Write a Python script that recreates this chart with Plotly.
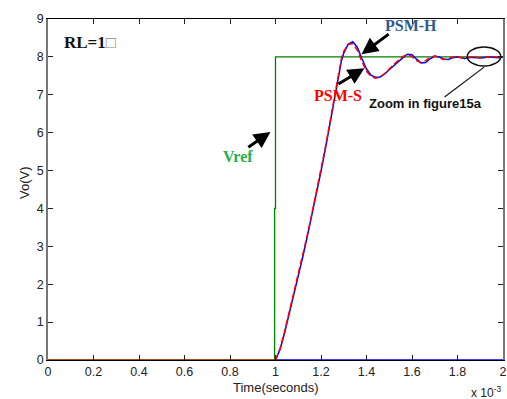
import plotly.graph_objects as go

# Reference step (Vref)
t_ref = [0.0, 0.996, 0.996, 1.0, 1.0, 2.0]
v_ref = [0.0, 0.0, 4.0, 4.0, 8.0, 8.0]

# PSM-H response (blue)
t_h = [1.00, 1.02, 1.04, 1.06, 1.08, 1.10, 1.12, 1.14, 1.16, 1.18, 1.20, 1.22, 1.24, 1.26, 1.28, 1.29, 1.30,
       1.32, 1.34, 1.36, 1.38, 1.40, 1.42, 1.44, 1.46, 1.48, 1.50, 1.53, 1.56, 1.58, 1.60, 1.62, 1.64, 1.66,
       1.68, 1.70, 1.72, 1.74, 1.76, 1.78, 1.80, 1.83, 1.86, 1.90, 1.94, 1.98, 2.00]
v_h = [0, 0.28, 0.72, 1.22, 1.70, 2.18, 2.72, 3.27, 3.82, 4.40, 4.98, 5.60, 6.25, 6.92, 7.58, 7.90, 8.10,
       8.34, 8.40, 8.25, 7.95, 7.68, 7.52, 7.46, 7.47, 7.55, 7.66, 7.83, 7.98, 8.07, 8.06, 7.94, 7.84, 7.85,
       7.95, 8.02, 8.00, 7.94, 7.93, 7.98, 8.00, 7.96, 7.99, 7.97, 8.00, 7.98, 8.00]

# PSM-S response (red)
t_s = [1.00, 1.02, 1.04, 1.06, 1.08, 1.10, 1.12, 1.14, 1.16, 1.18, 1.20, 1.22, 1.24, 1.26, 1.28, 1.29, 1.30,
       1.32, 1.34, 1.36, 1.38, 1.40, 1.42, 1.44, 1.46, 1.48, 1.50, 1.53, 1.56, 1.58, 1.60, 1.62, 1.64, 1.66,
       1.68, 1.70, 1.72, 1.74, 1.76, 1.78, 1.80, 1.83, 1.86, 1.90, 1.94, 1.98, 2.00]
v_s = [0, 0.30, 0.75, 1.25, 1.73, 2.22, 2.76, 3.30, 3.86, 4.43, 5.02, 5.64, 6.30, 6.97, 7.64, 7.97, 8.15,
       8.33, 8.35, 8.17, 7.88, 7.62, 7.48, 7.44, 7.47, 7.56, 7.68, 7.86, 8.01, 8.06, 8.01, 7.90, 7.85, 7.90,
       7.99, 8.02, 7.97, 7.93, 7.96, 8.00, 7.99, 7.97, 8.00, 7.98, 8.00, 7.99, 8.00]

# zero segments before / after the step
t_zero_red = [0.0, 1.0]
v_zero_red = [0.0, 0.0]
t_zero_blue = [1.0, 2.0]
v_zero_blue = [0.0, 0.0]

x_ticks = [0, 0.2, 0.4, 0.6, 0.8, 1, 1.2, 1.4, 1.6, 1.8, 2]
x_tick_text = ["0", "0.2", "0.4", "0.6", "0.8", "1", "1.2", "1.4", "1.6", "1.8", "2"]
y_ticks = [0, 1, 2, 3, 4, 5, 6, 7, 8, 9]

fig = go.Figure()
fig.add_trace(go.Scatter(x=t_ref, y=v_ref, mode="lines", line=dict(color="#008000", width=1.3), name="Vref"))
fig.add_trace(go.Scatter(x=t_zero_red, y=v_zero_red, mode="lines", line=dict(color="#FF0000", width=1.2),
                         name="zero-red"))
fig.add_trace(go.Scatter(x=t_zero_blue, y=v_zero_blue, mode="lines", line=dict(color="#0000FF", width=1.5),
                         name="zero-blue"))
fig.add_trace(go.Scatter(x=t_h, y=v_h, mode="lines", line=dict(color="#0000FF", width=1.5), name="PSM-H"))
fig.add_trace(go.Scatter(x=t_s, y=v_s, mode="lines", line=dict(color="#FF0000", width=1.5, dash="6px,3px"),
                         name="PSM-S"))

serif = "Liberation Serif"
ann = []
ann.append(dict(x=0.06, y=8.39, xref="x", yref="y", xanchor="left", yanchor="middle", showarrow=False,
                text="<b>RL=1</b><span style='color:#888'>□</span>",
                font=dict(family=serif, size=17, color="#111")))
ann.append(dict(x=1.596, y=8.84, xref="x", yref="y", showarrow=False, text="<b>PSM-H</b>",
                font=dict(family=serif, size=16, color="#2E5A8C")))
ann.append(dict(x=1.274, y=6.99, xref="x", yref="y", showarrow=False, text="<b>PSM-S</b>",
                font=dict(family=serif, size=16, color="#FF0000")))
ann.append(dict(x=0.835, y=5.36, xref="x", yref="y", showarrow=False, text="<b>Vref</b>",
                font=dict(family=serif, size=16, color="#22B14C")))
ann.append(dict(x=1.66, y=6.78, xref="x", yref="y", showarrow=False, text="<b>Zoom in figure15a</b>",
                font=dict(family="Liberation Sans", size=13, color="#111")))
for (hx, hy, tx, ty) in [(1.378, 8.07, 1.504, 8.63), (1.391, 7.70, 1.27, 7.26), (0.978, 6.02, 0.874, 5.59)]:
    ann.append(dict(x=hx, y=hy, ax=tx, ay=ty, xref="x", yref="y", axref="x", ayref="y", text=" ",
                    showarrow=True, arrowhead=2, arrowsize=1.1, arrowwidth=3, arrowcolor="#000",
                    font=dict(size=1)))
ann.append(dict(x=1.0, y=-0.082, xref="x", yref="paper", yanchor="middle", showarrow=False,
                text="Time(seconds)", font=dict(family="Liberation Sans", size=13, color="#222")))
ann.append(dict(x=-0.073, y=0.52, xref="paper", yref="paper", textangle=-90, showarrow=False,
                text="Vo(V)", font=dict(family="Liberation Sans", size=13, color="#222")))
ann.append(dict(x=0.926, y=-0.095, xref="paper", yref="paper", xanchor="left", yanchor="middle",
                showarrow=False, text="x 10<sup>-3</sup>",
                font=dict(family="Liberation Sans", size=12, color="#222")))

fig.update_layout(
    width=507, height=399,
    margin=dict(l=48, r=0, t=19, b=39),
    paper_bgcolor="white", plot_bgcolor="white",
    showlegend=False,
    annotations=ann,
    shapes=[
        dict(type="circle", xref="x", yref="y", x0=1.843, x1=1.99, y0=7.76, y1=8.26,
             line=dict(color="#111", width=1.5)),
        dict(type="line", xref="x", yref="y", x0=1.917, y0=7.73, x1=1.743, y1=6.94,
             line=dict(color="#111", width=1.2)),
    ],
)
fig.update_xaxes(range=[0, 2], tickvals=x_ticks, ticktext=x_tick_text, ticks="inside", ticklen=5,
                 tickcolor="#222", showline=True, linecolor="#000", linewidth=1, mirror="ticks",
                 showgrid=False, zeroline=False, ticklabeloverflow="allow",
                 tickfont=dict(family="Liberation Sans", size=12.5, color="#222"))
fig.update_yaxes(range=[0, 9], tickvals=y_ticks, ticks="inside", ticklen=5, tickcolor="#222",
                 showline=True, linecolor="#777", linewidth=1.5, mirror="ticks",
                 showgrid=False, zeroline=False,
                 tickfont=dict(family="Liberation Sans", size=12.5, color="#222"))

fig.write_html("out.html")
